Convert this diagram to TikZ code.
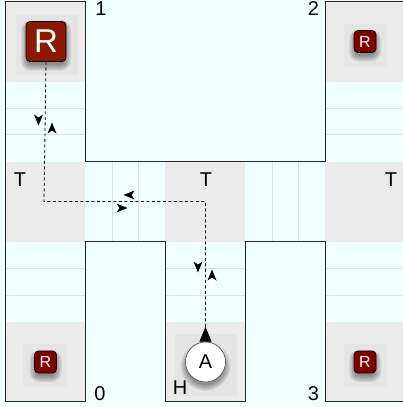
\documentclass[tikz,border=0pt]{standalone}
\usepackage{fontspec}
\setmainfont{Liberation Sans}
\usetikzlibrary{arrows.meta}
\definecolor{floorcol}{HTML}{F0FFFF}
\definecolor{cellcol}{HTML}{EBEBEB}
\definecolor{markcol}{HTML}{E5E5E5}
\definecolor{gridcol}{HTML}{DEDEDE}
\tikzset{
	wall/.style={line width=1pt, black!85},
	gridline/.style={line width=1pt, gridcol},
	route/.style={dashed, dash pattern=on 3pt off 2.5pt, line width=0.8pt, black},
	bigrobot/.style={draw=black, line width=0.8pt, rounded corners=4pt, fill={rgb,255:red,139;green,24;blue,0}, text=white, minimum size=40pt, inner sep=0pt, font=\fontsize{33}{33}\selectfont},
	robot/.style={draw=black, line width=0.8pt, rounded corners=4pt, fill={rgb,255:red,128;green,0;blue,0}, text=white, minimum size=22pt, inner sep=0pt, font=\fontsize{16}{16}\selectfont},
	agent/.style={circle, draw=black!70, line width=0.6pt, fill=white, minimum size=40pt, inner sep=0pt, font=\fontsize{20}{20}\selectfont},
	label/.style={inner sep=0pt, font=\fontsize{20}{20}\selectfont}
}
\newcommand{\softshadow}[4]{%
	\foreach \g in {6,4.5,3,1.5,0}
		\fill[black, fill opacity=0.09, rounded corners={(#4+\g)*1pt}] (#1-#3-\g+1,#2-#3-\g+5) rectangle (#1+#3+\g-1,#2+#3+\g+3);
}
\begin{document}
\begin{tikzpicture}[x=1pt,y=-1pt]
	\useasboundingbox (0,0) rectangle (403,407);
	\fill[floorcol] (0,0) rectangle (403,407);
	% grey cells
	\foreach \x/\y in {5/2,5/162,5/322,165/162,165/322,325/2,325/162,325/322}
		\fill[cellcol] (\x,\y) rectangle ++(78,80);
	\foreach \x/\y in {5/2,5/162,5/322,165/162,165/322}
		\fill[cellcol] (\x+78,\y) rectangle ++(2,80);
	% grid lines
	\foreach \y in {108.5,134.5} {
		\draw[gridline] (5,\y) -- (85,\y);
		\draw[gridline] (325,\y) -- (403,\y);
	}
	\foreach \y in {268.5,295} {
		\draw[gridline] (5,\y) -- (85,\y);
		\draw[gridline] (165,\y) -- (245,\y);
		\draw[gridline] (325,\y) -- (403,\y);
	}
	\foreach \x in {112,138.5,272,298.5}
		\draw[gridline] (\x,162) -- (\x,242);
	% walls
	\draw[wall] (403,1.5) -- (325,1.5) -- (325,161.5) -- (85,161.5) -- (85,1.5) -- (5,1.5) -- (5,401.5) -- (85,401.5) -- (85,241.5) -- (165,241.5) -- (165,401.5) -- (245,401.5) -- (245,241.5) -- (325,241.5) -- (325,401.5) -- (403,401.5);
	% markers under the robots
	\fill[markcol] (16,15) rectangle (78,75);
	\fill[markcol] (344,24) rectangle (387,67);
	\fill[markcol] (23,344) rectangle (67,387);
	\fill[markcol] (344,344) rectangle (387,387);
	\fill[markcol] (175,334) rectangle (237,396);
	\softshadow{46}{41.5}{20}{4}
	\softshadow{365}{41.5}{11}{4}
	\softshadow{45.5}{362}{11}{4}
	\softshadow{365}{362}{11}{4}
	\softshadow{205.5}{362}{20}{20}
	\node[bigrobot] (rtop) at (46,41.5) {R};
	\node[robot] (rright) at (365,41.5) {R};
	\node[robot] (rleft) at (45.5,362) {R};
	\node[robot] (rlow) at (365,362) {R};
	\node[agent] (agent) at (205.5,362) {A};
	% route
	\coordinate (bendleft) at (44,201.5);
	\coordinate (bendright) at (205.5,201.5);
	\draw[route, -{Triangle[reversed,length=15pt,width=12pt]}] (rtop.south) -- (bendleft) -- (bendright) -- (agent.north);
	% direction heads
	\foreach \x/\y/\a in {38.5/120/-90,52/128/90,129/195/180,122/208/0,198/267/-90,212/275/90}
		\fill[shift={(\x,\y)}, rotate=\a] (-5.5,-4.5) -- (5.5,0) -- (-5.5,4.5) -- (-2.5,0) -- cycle;
	% labels
	\node[label] (n1) at (101,9) {1};
	\node[label] (n2) at (313.5,9) {2};
	\node[label] (n0) at (100,394) {0};
	\node[label] (n3) at (313.5,394) {3};
	\node[label] (tl) at (20,180) {T};
	\node[label] (tc) at (206,180) {T};
	\node[label] (tr) at (391,180) {T};
	\node[label] (home) at (180,388) {H};
\end{tikzpicture}
\end{document}
